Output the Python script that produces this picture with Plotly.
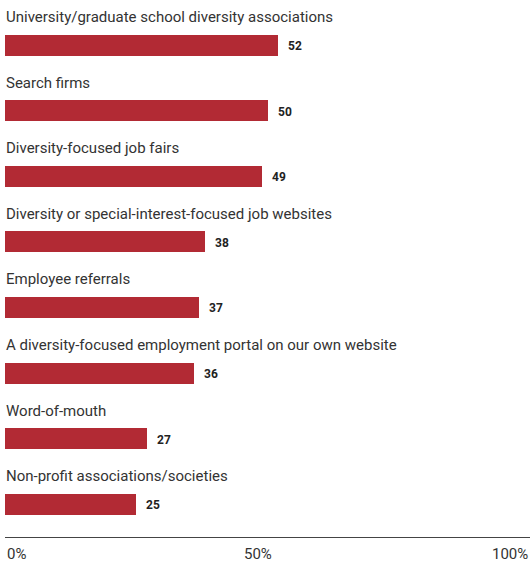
import plotly.graph_objects as go

categories = [
    "University/graduate school diversity associations",
    "Search firms",
    "Diversity-focused job fairs",
    "Diversity or special-interest-focused job websites",
    "Employee referrals",
    "A diversity-focused employment portal on our own website",
    "Word-of-mouth",
    "Non-profit associations/societies",
]
values = [52, 50, 49, 38, 37, 36, 27, 25]
tick_vals = [0, 50, 100]
tick_labels = ["0%", "50%", "100%"]

BAR = "#b22a34"
TXT = "#333333"
FONT = "Roboto"

pos = list(range(len(categories)))

fig = go.Figure()
fig.add_trace(go.Bar(
    x=values, y=pos, orientation="h",
    marker=dict(color=BAR, line=dict(width=0)),
    width=0.32,
    hoverinfo="skip",
))

annotations = []
for p, c in zip(pos, categories):
    annotations.append(dict(
        x=0, y=p, xref="x", yref="y", text=c, showarrow=False,
        xanchor="left", yanchor="middle", yshift=28, xshift=-1,
        font=dict(family=FONT, size=15, color=TXT),
    ))
for p, v in zip(pos, values):
    annotations.append(dict(
        x=v, y=p, xref="x", yref="y", text="<b>%d</b>" % v, showarrow=False,
        xanchor="left", yanchor="middle", xshift=8, yshift=-1,
        font=dict(family=FONT, size=12, color="#222222"),
    ))
anchors = ["left", "center", "right"]
for v, t, a in zip(tick_vals, tick_labels, anchors):
    annotations.append(dict(
        x=v, y=0, xref="x", yref="paper", text=t, showarrow=False,
        xanchor=a, yanchor="top", yshift=-6, xshift=(-10 if a == "center" else 0),
        font=dict(family=FONT, size=15, color=TXT),
    ))

fig.update_layout(
    width=530, height=563,
    margin=dict(l=5, r=0, t=0, b=26),
    paper_bgcolor="white", plot_bgcolor="white",
    showlegend=False,
    bargap=0,
    annotations=annotations,
    xaxis=dict(range=[0, 100], showgrid=False, zeroline=False,
               showticklabels=False, ticks="",
               showline=True, linecolor="#444444", linewidth=1),
    yaxis=dict(range=[7.5, -0.686], showgrid=False, zeroline=False,
               showticklabels=False, ticks="", showline=False),
)

fig.write_html("out.html", config={"displayModeBar": False},
               post_script="document.body.style.margin='0';document.body.style.padding='0';")
